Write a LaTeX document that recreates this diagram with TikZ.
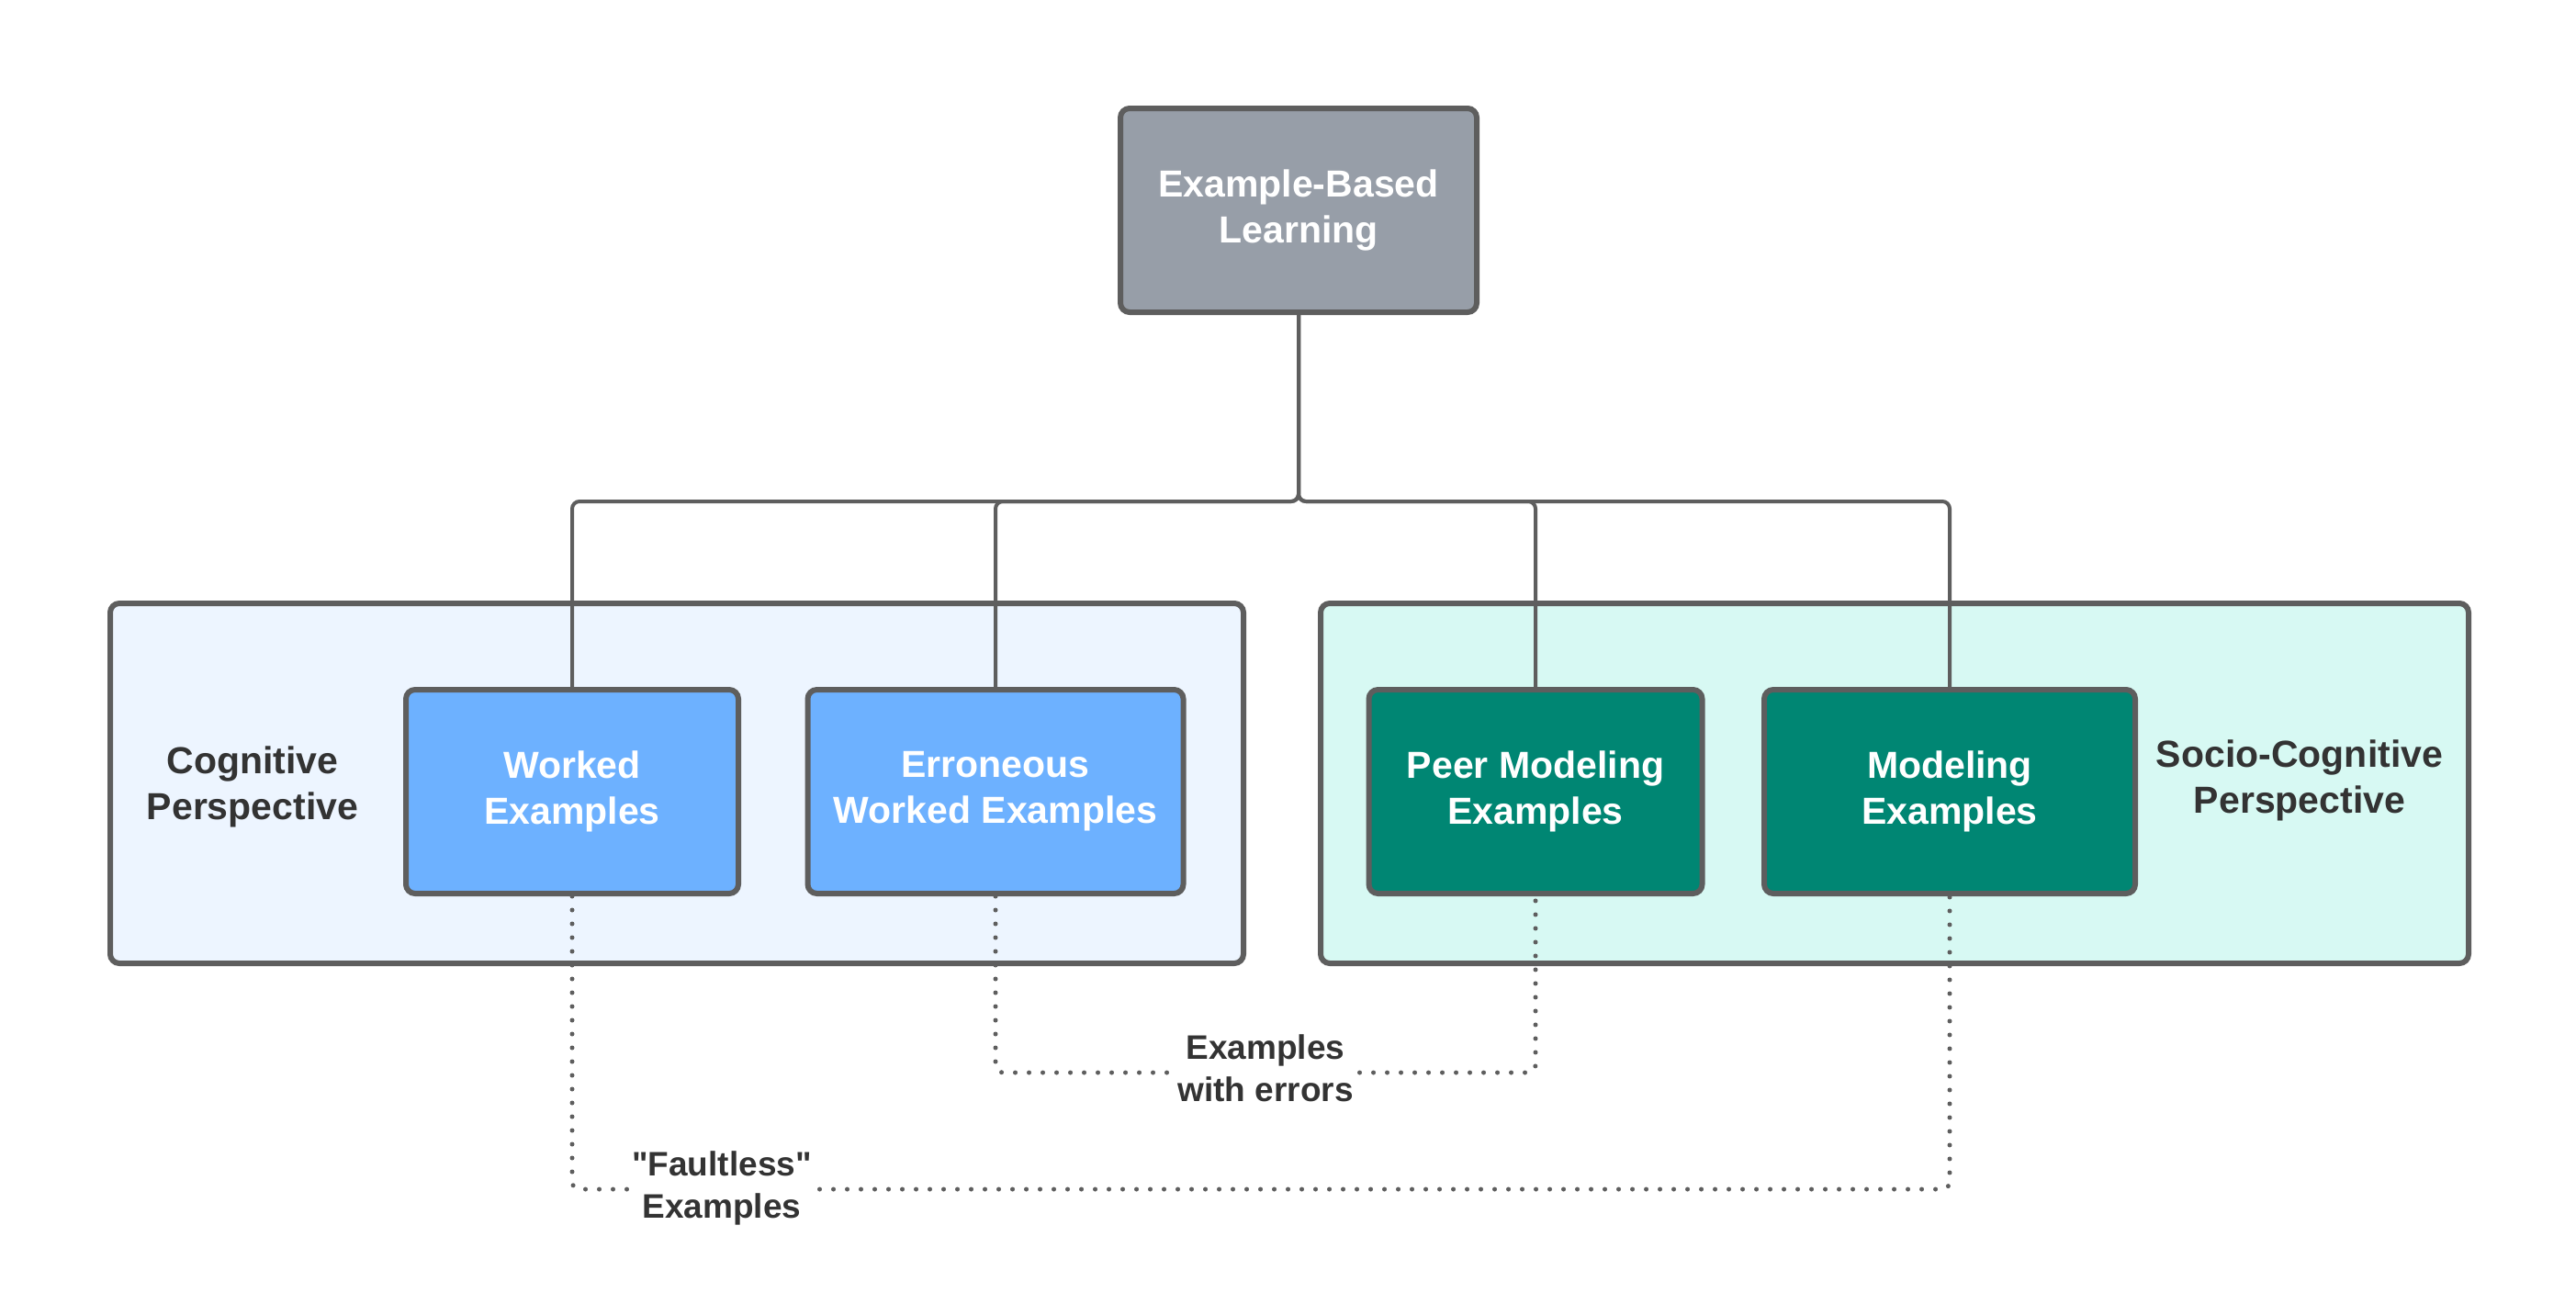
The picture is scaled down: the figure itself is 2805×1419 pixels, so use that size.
\documentclass[tikz,border=0pt]{standalone}
\usepackage{fontspec}
\setmainfont{Liberation Sans}[Ligatures=TeXOff]
\definecolor{edge}{HTML}{5E5E5E}
\definecolor{topfill}{HTML}{979EA8}
\definecolor{bluefill}{HTML}{6DB1FF}
\definecolor{tealfill}{HTML}{008673}
\definecolor{leftbg}{HTML}{EDF5FF}
\definecolor{rightbg}{HTML}{D7F9F3}
\definecolor{txt}{HTML}{333333}
\begin{document}
\begin{tikzpicture}[x=1pt,y=-1pt,
  box/.style={draw=edge, line width=6pt, rounded corners=10pt, inner sep=0pt,
    align=center, text=white, minimum height=222pt,
    font=\bfseries\fontsize{41}{50}\selectfont},
  group/.style={draw=edge, line width=6pt, rounded corners=10pt, inner sep=0pt,
    minimum height=392pt},
  grouplabel/.style={align=center, text=txt, inner sep=0pt,
    font=\bfseries\fontsize{41}{50}\selectfont},
  linklabel/.style={align=center, text=txt, fill=white, inner sep=3pt,
    font=\bfseries\fontsize{37}{46}\selectfont},
  conn/.style={draw=edge, line width=4pt, rounded corners=8pt},
  dotconn/.style={draw=edge, line width=5pt, line cap=round,
    dash pattern=on 0pt off 15pt, rounded corners=8pt}]
\fill[white] (0,0) rectangle (2805,1419);
\useasboundingbox (0,0) rectangle (2805,1419);

% group containers
\node[group, fill=leftbg, minimum width=1234pt] (cog) at (737,853) {};
\node[group, fill=rightbg, minimum width=1250pt] (soc) at (2063,853) {};
\node[grouplabel] (cogl) at (275,857) {Cognitive\\Perspective};
\node[grouplabel] (socl) at (2504,850) {Socio-Cognitive\\Perspective};

% boxes
\node[box, fill=topfill, minimum width=388pt, minimum height=222pt] (top) at (1414,229) {Example-Based\\Learning};
\node[box, fill=bluefill, minimum width=362pt] (worked) at (623,862) {Worked\\Examples};
\node[box, fill=bluefill, minimum width=409pt] (err) at (1084,862) {Erroneous\\Worked Examples};
\node[box, fill=tealfill, minimum width=363pt] (peer) at (1672,862) {Peer Modeling\\Examples};
\node[box, fill=tealfill, minimum width=404pt] (model) at (2123,862) {Modeling\\Examples};

% tree connectors
\coordinate (bus) at (1414,546);
\draw[conn] (top.south) -- (bus) -| (worked.north);
\draw[conn] (top.south) -- (bus) -| (err.north);
\draw[conn] (top.south) -- (bus) -| (peer.north);
\draw[conn] (top.south) -- (bus) -| (model.north);

% dotted relations
\coordinate (faulty) at (0,1295);
\coordinate (erry) at (0,1168);
\draw[dotconn] (worked.south) -- (worked.south |- faulty) -| (model.south);
\draw[dotconn] (err.south) -- (err.south |- erry) -| (peer.south);

\node[linklabel] (faultl) at (786,1294) {"Faultless"\\Examples};
\node[linklabel] (errl) at (1378,1163) {Examples\\with errors};
\end{tikzpicture}
\end{document}
